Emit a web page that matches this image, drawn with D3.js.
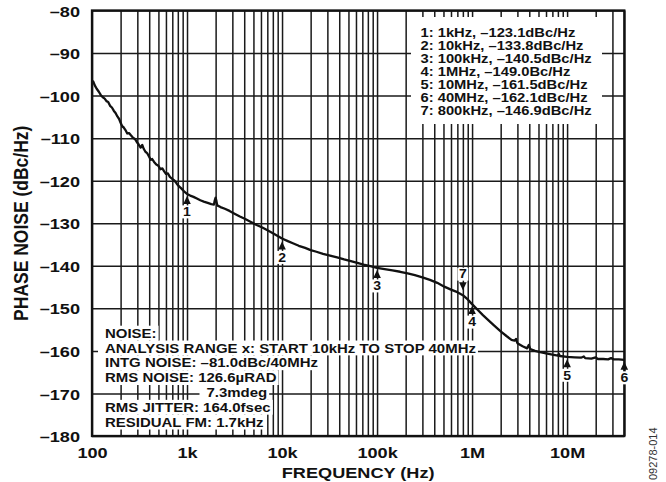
<!DOCTYPE html>
<html><head><meta charset="utf-8">
<script src="https://cdn.jsdelivr.net/npm/d3@7"></script>
<style>
html,body{margin:0;padding:0;background:#fff;}
svg{display:block;}
text{font-family:"Liberation Sans",Arial,Helvetica,sans-serif;font-weight:bold;fill:#111;}
</style></head>
<body><svg id="c" width="666" height="482"></svg>
<script>
// ---- data ----
const freqHz = [100,103,107,112,118,124,130,136,142,148,155,162,170,177,185,193,200,208,216,225,235,245,258,270,283,296,310,325,338,350,365,380,398,415,430,450,475,500,525,550,575,600,630,660,700,740,780,820,870,930,
1000,1080,1170,1270,1380,1500,1650,1800,1920,1960,2000,2040,2080,2250,2500,2800,3200,3600,4100,4700,5400,6200,7100,8100,9000,
10000,11500,13000,15000,17500,20000,23000,27000,32000,38000,45000,53000,62000,72000,85000,
100000,120000,145000,175000,210000,250000,300000,360000,430000,510000,600000,700000,800000,900000,
1000000,1150000,1300000,1500000,1700000,2000000,2300000,2600000,2800000,2900000,3000000,3400000,3800000,3950000,4100000,4600000,5200000,6000000,7000000,8000000,8200000,8400000,
10000000,12000000,14000000,15000000,15500000,18000000,20000000,21000000,24000000,27000000,29000000,31000000,35000000,40000000];
const phaseNoiseDb = [-97.2,-96.7,-97.6,-98.4,-99.1,-99.9,-100.4,-100.7,-101.3,-101.5,-102.4,-102.8,-103.6,-104.1,-104.9,-105.5,-106.4,-107.2,-107.5,-108.1,-108.9,-108.8,-109.4,-109.9,-110.2,-110.9,-111.5,-112.2,-111.6,-112.5,-113.2,-113.5,-114.3,-115.1,-114.9,-115.6,-116.2,-116.5,-117.3,-117.1,-117.8,-118.4,-118.3,-119.1,-119.6,-120.0,-120.7,-121.3,-121.8,-122.5,
-123.1,-123.5,-123.8,-124.2,-124.6,-124.9,-125.2,-125.5,-125.6,-124.6,-124.0,-124.8,-125.8,-126.2,-126.6,-127.1,-127.8,-128.4,-129.0,-129.7,-130.4,-131.0,-131.7,-132.4,-133.0,
-133.6,-134.2,-134.7,-135.3,-135.8,-136.3,-136.7,-137.2,-137.6,-138.0,-138.5,-138.9,-139.3,-139.7,-140.1,
-140.5,-140.8,-141.1,-141.4,-141.8,-142.2,-142.7,-143.3,-144.0,-144.9,-145.6,-146.2,-146.9,-147.9,
-149.0,-150.4,-151.6,-152.9,-154.0,-155.4,-156.5,-157.4,-157.6,-157.2,-158.2,-158.9,-159.4,-158.6,-159.6,-160.0,-160.3,-160.6,-160.9,-161.1,-160.7,-161.2,
-161.4,-161.5,-161.6,-161.3,-161.7,-161.8,-161.5,-161.9,-161.9,-162.0,-161.7,-162.0,-162.0,-162.1];

const markerIds  = ["1","2","3","4","5","6","7"];
const markerFreq = [1e3,1e4,1e5,1e6,1e7,4e7,8e5];
const markerDb   = [-123.1,-133.8,-140.5,-149.0,-161.5,-162.1,-146.9];
const markerDown = [false,false,false,false,false,false,true];

const xTickValues = [100,1e3,1e4,1e5,1e6,1e7];
const xTickLabels = ["100","1k","10k","100k","1M","10M"];
const yTickValues = [-80,-90,-100,-110,-120,-130,-140,-150,-160,-170,-180];
const yTickLabels = ["\u201380","\u201390","\u2013100","\u2013110","\u2013120","\u2013130","\u2013140","\u2013150","\u2013160","\u2013170","\u2013180"];

const legendLines = ["1: 1kHz, \u2013123.1dBc/Hz","2: 10kHz, \u2013133.8dBc/Hz","3: 100kHz, \u2013140.5dBc/Hz","4: 1MHz, \u2013149.0Bc/Hz","5: 10MHz, \u2013161.5dBc/Hz","6: 40MHz, \u2013162.1dBc/Hz","7: 800kHz, \u2013146.9dBc/Hz"];
const noiseLines = ["NOISE:","ANALYSIS RANGE x: START 10kHz TO STOP 40MHz","INTG NOISE: \u201381.0dBc/40MHz","RMS NOISE: 126.6\u00b5RAD","7.3mdeg","RMS JITTER: 164.0fsec","RESIDUAL FM: 1.7kHz"];

const xTitle = "FREQUENCY (Hz)";
const yTitle = "PHASE NOISE (dBc/Hz)";
const figId = "09278-014";

// ---- layout ----
const SX = 1.17; // horizontal stretch of lettering
const L=92, R=624.3, T=10.5, B=436;
const svg = d3.select("#c");
svg.append("rect").attr("width",666).attr("height",482).attr("fill","#fff");
const x = d3.scaleLog().domain([100,4e7]).range([L,R]);
const y = d3.scaleLinear().domain([-180,-80]).range([B,T]);

function stretchedText(g, px, py, str, size, anchor){
  return g.append("text").attr("transform",`translate(${px},${py}) scale(${SX},1)`)
    .attr("text-anchor",anchor||"start").style("font-size",size+"px").text(str);
}

// grid
const gridX = svg.append("g").attr("transform",`translate(0,${B})`)
  .call(d3.axisBottom(x).tickValues(x.ticks()).tickSize(-(B-T)).tickFormat(""));
const gridY = svg.append("g").attr("transform",`translate(${L},0)`)
  .call(d3.axisLeft(y).tickValues(yTickValues).tickSize(-(R-L)).tickFormat(""));
[gridX,gridY].forEach(g=>{
  g.select(".domain").remove();
  g.selectAll("line").attr("stroke","#1a1a1a").attr("stroke-width",1.5);
});

// curve
const pts = freqHz.map((f,i)=>[f,phaseNoiseDb[i]]);
svg.append("path").datum(pts)
  .attr("d",d3.line().x(d=>x(d[0])).y(d=>y(d[1])))
  .attr("fill","none").attr("stroke","#111").attr("stroke-width",2.3).attr("stroke-linejoin","round");

// frame
svg.append("rect").attr("x",L).attr("y",T).attr("width",R-L).attr("height",B-T)
  .attr("fill","none").attr("stroke","#111").attr("stroke-width",2.3);

// axes labels
const xAx = svg.append("g").attr("transform",`translate(0,${B})`)
  .call(d3.axisBottom(x).tickValues(xTickValues).tickSize(0).tickFormat((d,i)=>xTickLabels[i]));
xAx.select(".domain").remove();
xAx.selectAll("text").attr("y",null).attr("dy",null)
  .attr("transform",`translate(0,21.5) scale(${SX},1)`).style("font-size","15.5px").attr("fill","#111");

const yAx = svg.append("g").attr("transform",`translate(${L},0)`)
  .call(d3.axisLeft(y).tickValues(yTickValues).tickSize(0).tickFormat((d,i)=>yTickLabels[i]));
yAx.select(".domain").remove();
yAx.selectAll("text").attr("x",null).attr("dy","0.36em")
  .attr("transform",`translate(-12,0) scale(${SX},1)`).style("font-size","15.5px").attr("fill","#111");

stretchedText(svg,(L+R)/2,478,xTitle,15.5,"middle");
svg.append("text").attr("transform",`translate(28,${(T+B)/2}) scale(${SX},1) rotate(-90)`)
  .attr("text-anchor","middle").style("font-size","17.5px").text(yTitle);

// figure id
svg.append("text").attr("transform","translate(657,480) rotate(-90)")
  .attr("text-anchor","start").style("font-size","11px").style("font-weight","normal").style("fill","#333").text(figId);

// legend box
const lg = svg.append("g");
lg.append("rect").attr("x",411).attr("y",17).attr("width",191).attr("height",107).attr("fill","#fff");
legendLines.forEach((s,i)=>stretchedText(lg,420.5,36.7+i*13.05,s,12.6,"start"));

// noise block
const ng = svg.append("g");
noiseLines.forEach((s,i)=>{
  const by = 337.7+i*14.83;
  const tx = s==="7.3mdeg" ? 206.5 : 105;
  const t = stretchedText(ng,tx,by,s,12.8,"start");
  const bb = t.node().getBBox();
  const w = bb.width*SX;
  ng.insert("rect","text").attr("x",tx-7).attr("y",by-12).attr("width",w+9).attr("height",14.83).attr("fill","#fff");
});

// markers
const mg = svg.append("g");
markerIds.forEach((id,i)=>{
  const mx = x(markerFreq[i]), my = y(markerDb[i]);
  const dir = markerDown[i] ? -1 : 1;
  const apex = my + (markerDown[i] ? -5 : 2);
  const base = apex + dir*8;
  mg.append("path").attr("d",`M${mx},${apex}L${mx-3.8},${base}L${mx+3.8},${base}Z`).attr("fill","#111");
  const ly = base + dir*8;
  mg.append("rect").attr("x",mx-5.5).attr("y",ly-6.5).attr("width",11).attr("height",13).attr("fill","#fff");
  mg.append("text").attr("transform",`translate(${mx},${ly+4.3}) scale(${SX},1)`)
    .attr("text-anchor","middle").style("font-size","12px").text(id);
});
</script></body></html>
